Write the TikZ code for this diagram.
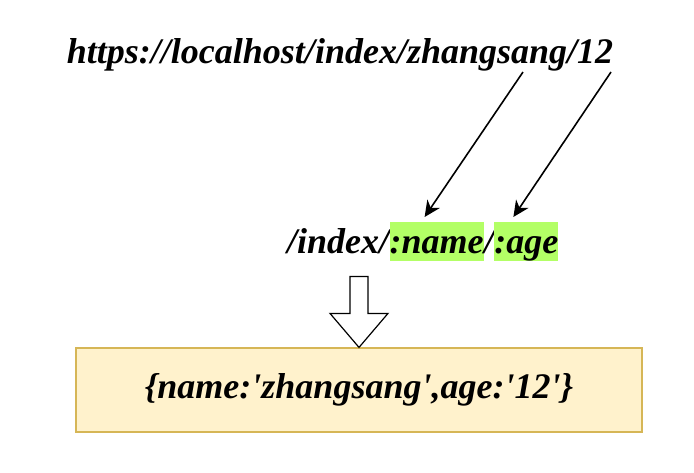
\documentclass[tikz,border=0pt]{standalone}
\usepackage{fontspec}
\setmainfont[Ligatures=TeXOff]{Liberation Serif}
\usepackage{xcolor}
\usetikzlibrary{arrows.meta,positioning}
\definecolor{hlgreen}{HTML}{B3FF66}
\definecolor{boxfill}{HTML}{FFF2CC}
\definecolor{boxline}{HTML}{D6B656}
\tikzset{
	urltext/.style={font=\fontsize{36}{42}\selectfont\bfseries\itshape, inner sep=0pt},
	plain/.style={urltext, text height=31pt, text depth=8pt},
	param/.style={plain, fill=hlgreen}
}

\begin{document}
\begin{tikzpicture}[x=1pt, y=-1pt, >=Stealth]
		\useasboundingbox (0,0) rectangle (694,472);

		% Request url
		\node[urltext, anchor=base] (url) at (340,63) {https://localhost/index/zhangsang/12};

		% Route pattern
		\node[plain, anchor=north west] (route) at (287,222) {/index/};
		\node[param, right=0pt of route] (pname) {:name};
		\node[plain, right=0pt of pname] (slash) {/};
		\node[param, right=0pt of slash] (page) {:age};

		% Result
		\node[urltext, draw=boxline, fill=boxfill, line width=1.2pt, minimum width=566pt, minimum height=84pt] (result) at (359,390) {\{name:'zhangsang',age:'12'\}};

		% Arrows
		\coordinate (fromname) at (523,72);
		\coordinate (fromage) at (611,72);
		\draw[-{Stealth[length=16pt,width=15pt,inset=5pt]}, line width=1.6pt] (fromname) -- ([xshift=-12pt,yshift=5pt]pname.north);
		\draw[-{Stealth[length=16pt,width=15pt,inset=5pt]}, line width=1.6pt] (fromage) -- ([xshift=-13pt,yshift=5pt]page.north);

		% Hollow arrow
		\coordinate (tip) at (result.north);
		\draw[line width=1.2pt, fill=white] (tip) -- ++(-29,-34) -- ++(20,0) -- ++(0,-37) -- ++(18,0) -- ++(0,37) -- ++(20,0) -- cycle;
	\end{tikzpicture}
\end{document}
